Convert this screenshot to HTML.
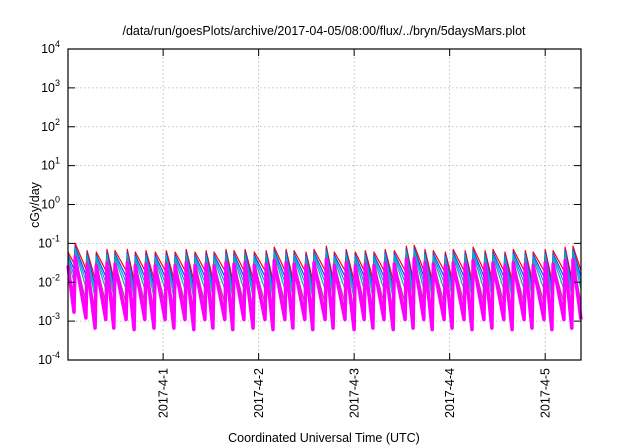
<!DOCTYPE html>
<html><head><meta charset="utf-8"><style>
body{margin:0;background:#fff;}
svg{display:block;font-family:"Liberation Sans",sans-serif;}
</style></head><body>
<svg id="chart" width="640" height="448" viewBox="0 0 640 448" xmlns="http://www.w3.org/2000/svg">
<rect width="640" height="448" fill="#fff"/>
<text x="324" y="35" font-size="12.5" text-anchor="middle">/data/run/goesPlots/archive/2017-04-05/08:00/flux/../bryn/5daysMars.plot</text>
<g id="grid"></g><g id="series"></g><g id="axes"></g>
<text transform="translate(39,205) rotate(-90)" font-size="12.5" text-anchor="middle">cGy/day</text>
<text x="324" y="442" font-size="12.5" text-anchor="middle">Coordinated Universal Time (UTC)</text>
</svg>
<script>
// hours relative to 2017-04-01 00:00 UTC
const dayTicks = [0, 24, 48, 72, 96];
const dayLabels = ["2017-4-1", "2017-4-2", "2017-4-3", "2017-4-4", "2017-4-5"];
const yExponents = [-4, -3, -2, -1, 0, 1, 2, 3, 4];
const peakHours = [-22.1,-19.1,-16.8,-14.1,-12.1,-9.0,-7.0,-4.3,-2.0,0.8,3.0,5.8,8.0,10.8,12.8,15.8,17.8,20.6,22.9,25.9,27.9,30.9,32.9,35.9,37.9,41.0,43.0,46.0,48.3,50.8,53.0,55.8,58.1,61.1,63.1,65.8,67.9,70.9,72.9,75.9,77.9,80.9,82.9,85.9,88.0,91.0,93.0,96.0,98.0,101.0,103.0];
const peakValues = [0.1,0.065,0.06,0.07,0.065,0.07,0.06,0.065,0.06,0.065,0.06,0.07,0.06,0.065,0.06,0.07,0.065,0.07,0.06,0.065,0.08,0.07,0.065,0.06,0.07,0.085,0.06,0.07,0.06,0.065,0.06,0.07,0.065,0.085,0.09,0.07,0.065,0.06,0.07,0.065,0.08,0.065,0.07,0.06,0.07,0.065,0.06,0.07,0.065,0.08,0.085];
const troughValues = [0.022,0.012,0.02,0.012,0.02,0.011,0.02,0.012,0.02,0.012,0.02,0.011,0.02,0.012,0.02,0.011,0.02,0.012,0.02,0.011,0.02,0.012,0.02,0.011,0.02,0.012,0.02,0.011,0.02,0.012,0.02,0.011,0.02,0.012,0.02,0.011,0.02,0.012,0.02,0.011,0.02,0.012,0.02,0.011,0.02,0.012,0.02,0.011,0.02,0.012,0.02];
const startValue = 0.06;
const seriesNames = ["red","blue","light-blue","teal","purple","orange","magenta"];
const seriesColors = ["#ff0000","#0050f0","#1890ff","#00b89a","#a0508a","#ff9900","#ff00ff"];
const seriesPeakFactor = [1, 0.85, 0.75, 0.65, 0.5, 0.45, 0.45];
const seriesTroughFactor = [1, 0.7, 0.5, 0.33, 0.14, 0.09, 0.055];
const seriesWidths = [1.2, 1.2, 1.2, 1.2, 1.2, 1.2, 3.5];

const X0=68, X1=581, Y0=49, Y1=360;
const H0=-23.9, H1=105.0;
function xs(h){return X0+(h-H0)/(H1-H0)*(X1-X0);}
function ys(v){return Y1-(Math.log10(v)+4)/8*(Y1-Y0);}
const NS="http://www.w3.org/2000/svg";
function mk(tag,parent,attrs){const e=document.createElementNS(NS,tag);for(const k in attrs)e.setAttribute(k,attrs[k]);parent.appendChild(e);return e;}
const grid=document.getElementById('grid'), axes=document.getElementById('axes'), ser=document.getElementById('series');

yExponents.forEach(p=>{
  const y=ys(Math.pow(10,p));
  if(p>-4&&p<4){const g=mk('line',grid,{x1:X0,x2:X1,y1:y,y2:y,stroke:'#b0b0b0','stroke-width':0.8,'stroke-dasharray':'1.5,2.5'});
  
  }
  const t=mk('line',axes,{x1:X0,x2:X0+7,y1:y,y2:y,stroke:'#000'});
  
  
  mk('line',axes,{x1:X1,x2:X1-7,y1:y,y2:y,stroke:'#000'});
  const lb=mk('text',axes,{x:X0-8,y:y+4,'font-size':12.5,'text-anchor':'end'});
  
  
  lb.textContent='10';
  const sp=mk('tspan',lb,{dy:-6,'font-size':9});sp.textContent=String(p);
});
dayTicks.forEach((h,i)=>{
  const x=xs(h);
  const g=mk('line',grid,{x1:x,x2:x,y1:Y0,y2:Y1,stroke:'#b0b0b0','stroke-width':0.8,'stroke-dasharray':'1.5,2.5'});
  
  
  mk('line',axes,{x1:x,x2:x,y1:Y1,y2:Y1-7,stroke:'#000'});
  mk('line',axes,{x1:x,x2:x,y1:Y0,y2:Y0+7,stroke:'#000'});
  const lb=mk('text',axes,{transform:`translate(${x+4.5},368) rotate(-90)`,'font-size':12.5,'text-anchor':'end'});
  
  
  lb.textContent=dayLabels[i];
});
const fr=mk('rect',axes,{x:X0,y:Y0,width:X1-X0,height:Y1-Y0,fill:'none',stroke:'#000','stroke-width':1.2});



// draw in order: red first, magenta last (on top)
for(let s=0;s<seriesNames.length;s++){
  const pts=[];
  const pf=seriesPeakFactor[s], tf=seriesTroughFactor[s];
  pts.push([xs(H0), ys(startValue*pf)]);
  pts.push([xs(peakHours[0]-0.3), ys(troughValues[0]*1.4*tf)]);
  for(let i=0;i<peakHours.length;i++){
    pts.push([xs(peakHours[i]), ys(peakValues[i]*pf)]);
    const nextH = i+1<peakHours.length ? peakHours[i+1]-0.3 : H1;
    pts.push([xs(nextH), ys(troughValues[i]*tf)]);
  }
  const pl=mk('polyline',ser,{points:pts.map(p=>p[0].toFixed(1)+','+p[1].toFixed(1)).join(' '),fill:'none',stroke:seriesColors[s],'stroke-width':seriesWidths[s],'stroke-linejoin':'round'});
  
  
}
</script>
</body></html>
